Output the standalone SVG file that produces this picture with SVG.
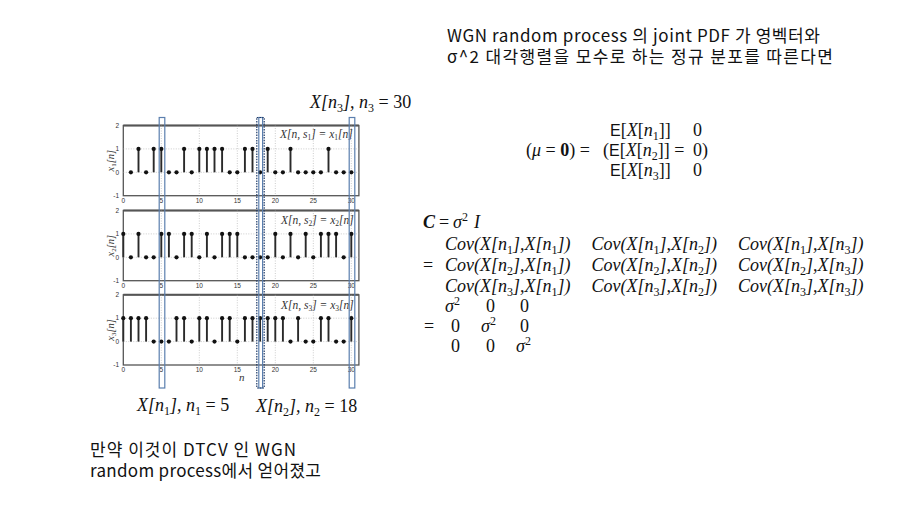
<svg xmlns="http://www.w3.org/2000/svg" xmlns:xlink="http://www.w3.org/1999/xlink" width="900" height="506" viewBox="0 0 900 506">
<style>
.k{font-family:"Noto Sans CJK KR","Noto Sans",sans-serif;font-size:17px;fill:#111}
.m{font-family:"Liberation Serif","Noto Sans CJK KR",serif;font-size:18px;fill:#111}
.i{font-style:italic}
.s{font-size:12px;font-style:normal}
.sup{font-size:12px;font-style:normal}
.e{font-family:"Liberation Sans",sans-serif;font-size:16px}
.tick{font-family:"Liberation Sans",sans-serif;font-size:6.5px;fill:#333}
.ax{font-family:"Liberation Serif",serif;font-style:italic;fill:#333}
.frame{fill:#fff;stroke:#555;stroke-width:1.3}
.grid{stroke:#aaa;stroke-width:0.6;stroke-dasharray:1 1.5}
.stem{stroke:#2a2a2a;stroke-width:1.9}
.dot{fill:#111}
.sel{fill:none;stroke:#5b7fae;stroke-width:1.2}
.seld{fill:none;stroke:#1f3a66;stroke-width:1.2;stroke-dasharray:1.5 1.2}
</style>
<defs>
<g id="s1"><line class="stem" x1="0" y1="0" x2="0" y2="-23.4"/><circle class="dot" cx="0" cy="-23.4" r="2.1"/></g>
<circle id="s0" class="dot" r="2.1"/>
<g id="xt" class="tick" text-anchor="middle">
<text x="123.3" y="0">0</text><text x="161.3" y="0">5</text><text x="199.3" y="0">10</text><text x="237.3" y="0">15</text><text x="275.3" y="0">20</text><text x="313.3" y="0">25</text><text x="351.3" y="0">30</text>
</g>
<g id="grid">
<line class="grid" x1="161.3" y1="0" x2="161.3" y2="70.2"/><line class="grid" x1="199.3" y1="0" x2="199.3" y2="70.2"/><line class="grid" x1="237.3" y1="0" x2="237.3" y2="70.2"/><line class="grid" x1="275.3" y1="0" x2="275.3" y2="70.2"/><line class="grid" x1="313.3" y1="0" x2="313.3" y2="70.2"/><line class="grid" x1="351.3" y1="0" x2="351.3" y2="70.2"/>
<line class="grid" x1="123.3" y1="23.4" x2="358.9" y2="23.4"/><line class="grid" x1="123.3" y1="46.8" x2="358.9" y2="46.8"/>
</g>
<g id="yt" class="tick" text-anchor="end">
<text x="119" y="2.3">2</text><text x="119" y="25.7">1</text><text x="119" y="49.1">0</text><text x="119" y="72.5">-1</text>
</g>
</defs>
<rect width="900" height="506" fill="#fff"/>

<g id="title">
<text class="k" x="447" y="42" textLength="373" lengthAdjust="spacing">WGN random process 의 joint PDF 가 영벡터와</text>
<text class="k" x="447" y="63" textLength="386" lengthAdjust="spacing">σ^2 대각행렬을 모수로 하는 정규 분포를 따른다면</text>
</g>

<g id="plot1">
<rect class="frame" x="123.3" y="125.5" width="235.6" height="70.2"/>
<line x1="123.3" y1="125.5" x2="358.9" y2="125.5" stroke="#555" stroke-width="2"/>
<use href="#grid" x="0" y="125.5"/>
<use href="#yt" x="0" y="125.5"/>
<use href="#xt" x="0" y="202.5"/>
<text class="ax" font-size="10.5" text-anchor="middle" transform="translate(113.5,160.6) rotate(-90)">x<tspan font-size="7" dy="2" font-style="normal">1</tspan><tspan dy="-2">[n]</tspan></text>
<text class="ax" font-size="11.5" x="280" y="138">X[n, s<tspan font-size="7.5" dy="2" font-style="normal">1</tspan><tspan dy="-2">] = x</tspan><tspan font-size="7.5" dy="2" font-style="normal">1</tspan><tspan dy="-2">[n]</tspan></text>
<g transform="translate(0,172.3)">
<use href="#s0" x="130.9"/><use href="#s1" x="138.5"/><use href="#s0" x="146.1"/><use href="#s1" x="153.7"/><use href="#s1" x="161.3"/><use href="#s0" x="168.9"/><use href="#s0" x="176.5"/><use href="#s1" x="184.1"/><use href="#s0" x="191.7"/><use href="#s1" x="199.3"/>
<use href="#s1" x="206.9"/><use href="#s1" x="214.5"/><use href="#s1" x="222.1"/><use href="#s0" x="229.7"/><use href="#s0" x="237.3"/><use href="#s1" x="244.9"/><use href="#s1" x="252.5"/><use href="#s0" x="260.1"/><use href="#s1" x="267.7"/><use href="#s0" x="275.3"/>
<use href="#s0" x="282.9"/><use href="#s1" x="290.5"/><use href="#s0" x="298.1"/><use href="#s0" x="305.7"/><use href="#s0" x="313.3"/><use href="#s0" x="320.9"/><use href="#s1" x="328.5"/><use href="#s0" x="336.1"/><use href="#s0" x="343.7"/><use href="#s0" x="351.3"/>
</g>
</g>

<g id="plot2">
<rect class="frame" x="123.3" y="210.5" width="235.6" height="70.2"/>
<line x1="123.3" y1="210.5" x2="358.9" y2="210.5" stroke="#555" stroke-width="2"/>
<use href="#grid" x="0" y="210.5"/>
<use href="#yt" x="0" y="210.5"/>
<use href="#xt" x="0" y="287.5"/>
<text class="ax" font-size="10.5" text-anchor="middle" transform="translate(113.5,245.6) rotate(-90)">x<tspan font-size="7" dy="2" font-style="normal">2</tspan><tspan dy="-2">[n]</tspan></text>
<text class="ax" font-size="11.5" x="281" y="224">X[n, s<tspan font-size="7.5" dy="2" font-style="normal">2</tspan><tspan dy="-2">] = x</tspan><tspan font-size="7.5" dy="2" font-style="normal">2</tspan><tspan dy="-2">[n]</tspan></text>
<g transform="translate(0,257.3)">
<use href="#s1" x="123.3"/>
<use href="#s0" x="130.9"/><use href="#s1" x="138.5"/><use href="#s0" x="146.1"/><use href="#s0" x="153.7"/><use href="#s1" x="161.3"/><use href="#s1" x="168.9"/><use href="#s0" x="176.5"/><use href="#s1" x="184.1"/><use href="#s1" x="191.7"/><use href="#s0" x="199.3"/>
<use href="#s1" x="206.9"/><use href="#s0" x="214.5"/><use href="#s1" x="222.1"/><use href="#s1" x="229.7"/><use href="#s1" x="237.3"/><use href="#s0" x="244.9"/><use href="#s0" x="252.5"/><use href="#s0" x="260.1"/><use href="#s0" x="267.7"/><use href="#s1" x="275.3"/>
<use href="#s0" x="282.9"/><use href="#s1" x="290.5"/><use href="#s0" x="298.1"/><use href="#s1" x="305.7"/><use href="#s0" x="313.3"/><use href="#s1" x="320.9"/><use href="#s1" x="328.5"/><use href="#s1" x="336.1"/><use href="#s0" x="343.7"/><use href="#s1" x="351.3"/>
</g>
</g>

<g id="plot3">
<rect class="frame" x="123.3" y="294.8" width="235.6" height="70.2"/>
<line x1="123.3" y1="294.8" x2="358.9" y2="294.8" stroke="#555" stroke-width="2"/>
<use href="#grid" x="0" y="294.8"/>
<use href="#yt" x="0" y="294.8"/>
<use href="#xt" x="0" y="371.8"/>
<text class="ax" font-size="10.5" text-anchor="middle" transform="translate(113.5,329.9) rotate(-90)">x<tspan font-size="7" dy="2" font-style="normal">3</tspan><tspan dy="-2">[n]</tspan></text>
<text class="ax" font-size="11.5" x="281" y="308.5">X[n, s<tspan font-size="7.5" dy="2" font-style="normal">3</tspan><tspan dy="-2">] = x</tspan><tspan font-size="7.5" dy="2" font-style="normal">3</tspan><tspan dy="-2">[n]</tspan></text>
<text class="ax" font-size="11" x="241.7" y="381" text-anchor="middle">n</text>
<g transform="translate(0,341.6)">
<use href="#s1" x="123.3"/>
<use href="#s1" x="130.9"/><use href="#s1" x="138.5"/><use href="#s1" x="146.1"/><use href="#s0" x="153.7"/><use href="#s0" x="161.3"/><use href="#s0" x="168.9"/><use href="#s1" x="176.5"/><use href="#s1" x="184.1"/><use href="#s0" x="191.7"/><use href="#s1" x="199.3"/>
<use href="#s1" x="206.9"/><use href="#s0" x="214.5"/><use href="#s1" x="222.1"/><use href="#s1" x="229.7"/><use href="#s0" x="237.3"/><use href="#s1" x="244.9"/><use href="#s1" x="252.5"/><use href="#s1" x="260.1"/><use href="#s1" x="267.7"/><use href="#s1" x="275.3"/>
<use href="#s1" x="282.9"/><use href="#s0" x="290.5"/><use href="#s1" x="298.1"/><use href="#s0" x="305.7"/><use href="#s0" x="313.3"/><use href="#s1" x="320.9"/><use href="#s1" x="328.5"/><use href="#s0" x="336.1"/><use href="#s0" x="343.7"/><use href="#s1" x="351.3"/>
</g>
</g>

<g id="selections">
<rect class="sel" x="159.2" y="117.5" width="5.6" height="270.5"/>
<rect class="sel" x="258.8" y="117.5" width="3.8" height="270.5"/>
<rect class="seld" x="256.8" y="117.5" width="7.4" height="270.5"/>
<rect class="sel" x="349.2" y="117.5" width="5.6" height="270.5"/>
</g>

<g id="labels">
<text class="m i" x="310" y="108">X[n<tspan class="s" dy="4">3</tspan><tspan dy="-4">], n</tspan><tspan class="s" dy="4">3</tspan><tspan dy="-4" font-style="normal"> = 30</tspan></text>
<text class="m i" x="137" y="411">X[n<tspan class="s" dy="4">1</tspan><tspan dy="-4">], n</tspan><tspan class="s" dy="4">1</tspan><tspan dy="-4" font-style="normal"> = 5</tspan></text>
<text class="m i" x="256" y="412">X[n<tspan class="s" dy="4">2</tspan><tspan dy="-4">], n</tspan><tspan class="s" dy="4">2</tspan><tspan dy="-4" font-style="normal"> = 18</tspan></text>
</g>

<g id="mean">
<text class="m" x="610" y="136"><tspan class="e">E</tspan>[<tspan class="i">X</tspan>[<tspan class="i">n</tspan><tspan class="s" dy="4">1</tspan><tspan dy="-4">]]</tspan></text>
<text class="m" x="693" y="136">0</text>
<text class="m" x="526" y="156">(<tspan class="i">μ</tspan> = <tspan font-weight="bold">0</tspan>) = </text>
<text class="m" x="603" y="156">(<tspan class="e">E</tspan>[<tspan class="i">X</tspan>[<tspan class="i">n</tspan><tspan class="s" dy="4">2</tspan><tspan dy="-4">]] =</tspan></text>
<text class="m" x="693" y="156">0)</text>
<text class="m" x="610" y="176"><tspan class="e">E</tspan>[<tspan class="i">X</tspan>[<tspan class="i">n</tspan><tspan class="s" dy="4">3</tspan><tspan dy="-4">]]</tspan></text>
<text class="m" x="693" y="176">0</text>
</g>

<g id="cov">
<text class="m" x="423" y="228"><tspan font-weight="bold" font-style="italic">C</tspan><tspan x="439">=</tspan><tspan x="453" class="i">σ</tspan><tspan class="sup" dy="-7">2</tspan><tspan class="i" dy="7" x="474">I</tspan></text>
<text class="m" x="423" y="271">=</text>
<text class="m i" x="445" y="250">Cov(X[n<tspan class="s" dy="4">1</tspan><tspan dy="-4">],X[n</tspan><tspan class="s" dy="4">1</tspan><tspan dy="-4">])</tspan></text>
<text class="m i" x="591.5" y="250">Cov(X[n<tspan class="s" dy="4">1</tspan><tspan dy="-4">],X[n</tspan><tspan class="s" dy="4">2</tspan><tspan dy="-4">])</tspan></text>
<text class="m i" x="738" y="250">Cov(X[n<tspan class="s" dy="4">1</tspan><tspan dy="-4">],X[n</tspan><tspan class="s" dy="4">3</tspan><tspan dy="-4">])</tspan></text>
<text class="m i" x="445" y="271">Cov(X[n<tspan class="s" dy="4">2</tspan><tspan dy="-4">],X[n</tspan><tspan class="s" dy="4">1</tspan><tspan dy="-4">])</tspan></text>
<text class="m i" x="591.5" y="271">Cov(X[n<tspan class="s" dy="4">2</tspan><tspan dy="-4">],X[n</tspan><tspan class="s" dy="4">2</tspan><tspan dy="-4">])</tspan></text>
<text class="m i" x="738" y="271">Cov(X[n<tspan class="s" dy="4">2</tspan><tspan dy="-4">],X[n</tspan><tspan class="s" dy="4">3</tspan><tspan dy="-4">])</tspan></text>
<text class="m i" x="445" y="292">Cov(X[n<tspan class="s" dy="4">3</tspan><tspan dy="-4">],X[n</tspan><tspan class="s" dy="4">1</tspan><tspan dy="-4">])</tspan></text>
<text class="m i" x="591.5" y="292">Cov(X[n<tspan class="s" dy="4">3</tspan><tspan dy="-4">],X[n</tspan><tspan class="s" dy="4">2</tspan><tspan dy="-4">])</tspan></text>
<text class="m i" x="738" y="292">Cov(X[n<tspan class="s" dy="4">3</tspan><tspan dy="-4">],X[n</tspan><tspan class="s" dy="4">3</tspan><tspan dy="-4">])</tspan></text>
<text class="m i" x="445" y="312">σ<tspan class="sup" dy="-7">2</tspan></text>
<text class="m" x="486" y="312">0</text>
<text class="m" x="520" y="312">0</text>
<text class="m" x="424" y="332">=</text>
<text class="m" x="451" y="332">0</text>
<text class="m i" x="481" y="332">σ<tspan class="sup" dy="-7">2</tspan></text>
<text class="m" x="520" y="332">0</text>
<text class="m" x="451" y="352">0</text>
<text class="m" x="486" y="352">0</text>
<text class="m i" x="516" y="352">σ<tspan class="sup" dy="-7">2</tspan></text>
</g>

<g id="note">
<text class="k" x="90" y="456" textLength="206" lengthAdjust="spacing">만약 이것이 DTCV 인 WGN</text>
<text class="k" x="90" y="477" textLength="231" lengthAdjust="spacing">random process에서 얻어졌고</text>
</g>
</svg>
